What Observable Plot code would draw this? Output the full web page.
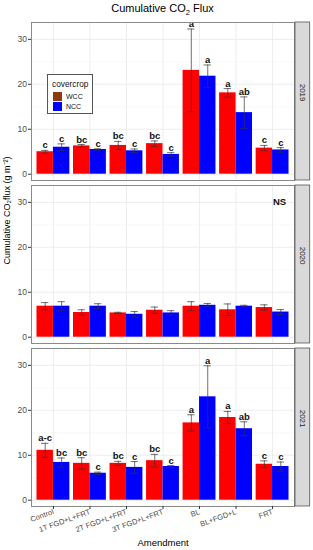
<!DOCTYPE html>
<html>
<head>
<meta charset="utf-8">
<script src="https://cdn.jsdelivr.net/npm/d3@7"></script>
<script src="https://cdn.jsdelivr.net/npm/@observablehq/plot@0.6"></script>
<style>
  html, body { margin: 0; padding: 0; background: #fff; }
  #wrap { position: relative; width: 313px; height: 550px; font-family: "Liberation Sans", Arial, sans-serif; }
  #title { position: absolute; top: 2px; left: 31px; width: 263px; text-align: center; font-size: 11px; color: #000; }
  #title sub { font-size: 7.5px; }
  #legend { position: absolute; left: 47px; top: 74px; width: 46px; height: 40px; border: 1px solid #555; background: #fff; box-sizing: border-box; }
  #legend .t { position: absolute; left: 4px; top: 4px; font-size: 8.3px; color: #111; }
  #legend .sw { position: absolute; left: 5px; width: 9px; height: 9px; }
  #legend .lb { position: absolute; left: 18px; font-size: 7px; color: #111; }
  [aria-label="y-axis tick label"] { fill: #4d4d4d; }
  [aria-label="x-axis tick label"] { fill: #4d4d4d; }
</style>
</head>
<body>
<div id="wrap">
  <div id="chart"></div>
  <div id="title">Cumulative CO<sub>2</sub> Flux</div>
  <div id="legend">
    <div class="t">covercrop</div>
    <div class="sw" style="top:17px;background:#8b3a12"></div>
    <div class="lb" style="top:17.5px">WCC</div>
    <div class="sw" style="top:27px;background:#0000ff"></div>
    <div class="lb" style="top:27.5px">NCC</div>
  </div>
</div>
<script>
const amendments = ["Control", "1T FGD+L+FRT", "2T FGD+L+FRT", "3T FGD+L+FRT", "BL", "BL+FGD+L", "FRT"];
const years = ["2019", "2020", "2021"];
const covercrops = ["WCC", "NCC"];
const ccColors = ["#ff0000", "#0000ff"];
const yTicks = [0, 10, 20, 30];
const yMinor = [5, 15, 25];

const wcc2019 = [5.0, 6.3, 6.4, 6.8, 23.1, 18.1, 5.8];
const wcc2019Se = [0.3, 0.3, 0.9, 0.6, 9.2, 0.95, 0.6];
const wcc2019Letters = ["c", "bc", "bc", "bc", "a", "a", "c"];
const ncc2019 = [6.0, 5.5, 5.2, 4.4, 21.8, 13.7, 5.4];
const ncc2019Se = [0.75, 0.15, 0.4, 0.4, 2.5, 3.5, 0.5];
const ncc2019Letters = ["c", "c", "c", "c", "a", "ab", "c"];

const wcc2020 = [6.9, 5.5, 5.4, 6.0, 6.9, 6.1, 6.6];
const wcc2020Se = [0.8, 0.6, 0.15, 0.7, 1.0, 1.3, 0.6];
const ncc2020 = [6.9, 6.9, 5.1, 5.4, 7.1, 6.9, 5.6];
const ncc2020Se = [1.0, 0.55, 0.6, 0.5, 0.4, 0.2, 0.55];

const wcc2021 = [11.1, 8.2, 8.2, 8.8, 17.2, 18.4, 8.0];
const wcc2021Se = [1.55, 1.25, 0.45, 1.4, 1.8, 1.35, 0.75];
const wcc2021Letters = ["a-c", "bc", "bc", "bc", "a", "a", "c"];
const ncc2021 = [8.4, 6.0, 7.3, 7.5, 23.0, 15.9, 7.5];
const ncc2021Se = [1.0, 0.25, 1.3, 0.2, 6.9, 1.55, 1.0];
const ncc2021Letters = ["bc", "c", "c", "c", "a", "ab", "c"];

const dodge = 0.45;
const rows = [];
function add(year, ccIndex, means, ses, letters) {
  means.forEach((m, i) => {
    const x1 = i + (ccIndex === 0 ? -dodge : 0);
    rows.push({
      year, cc: covercrops[ccIndex], color: ccColors[ccIndex], i,
      amendment: amendments[i], mean: m, se: ses[i],
      lo: m - ses[i], hi: m + ses[i],
      letter: letters ? letters[i] : "",
      x1, x2: x1 + dodge, xc: x1 + dodge / 2
    });
  });
}
add("2019", 0, wcc2019, wcc2019Se, wcc2019Letters);
add("2019", 1, ncc2019, ncc2019Se, ncc2019Letters);
add("2020", 0, wcc2020, wcc2020Se, null);
add("2020", 1, ncc2020, ncc2020Se, null);
add("2021", 0, wcc2021, wcc2021Se, wcc2021Letters);
add("2021", 1, ncc2021, ncc2021Se, ncc2021Letters);

const yearRows = years.map(y => ({year: y}));
const cap = 0.1;

const chart = Plot.plot({
  width: 313,
  height: 550,
  marginLeft: 31,
  marginRight: 19,
  marginTop: 22,
  marginBottom: 44,
  style: {fontFamily: "'Liberation Sans', Arial, sans-serif", background: "#fff", overflow: "visible"},
  x: {domain: [-0.6, 6.6], axis: null},
  y: {domain: [-1.4, 33.75], axis: null},
  fy: {domain: years, axis: null, paddingInner: 0.031, paddingOuter: 0},
  color: {type: "identity"},
  marks: [
    Plot.ruleY(yMinor, {stroke: "#f2f2f2", strokeWidth: 0.5}),
    Plot.ruleY(yTicks, {stroke: "#e8e8e8", strokeWidth: 0.8}),
    Plot.ruleX(d3.range(amendments.length), {stroke: "#e8e8e8", strokeWidth: 0.8}),
    Plot.rect(rows, {fy: "year", x1: "x1", x2: "x2", y1: 0, y2: "mean", fill: "color"}),
    Plot.ruleX(rows, {fy: "year", x: "xc", y1: "lo", y2: "hi", stroke: "#333", strokeWidth: 0.7}),
    Plot.ruleY(rows, {fy: "year", y: "hi", x1: d => d.xc - cap, x2: d => d.xc + cap, stroke: "#333", strokeWidth: 0.7}),
    Plot.ruleY(rows, {fy: "year", y: "lo", x1: d => d.xc - cap, x2: d => d.xc + cap, stroke: "#333", strokeWidth: 0.7}),
    Plot.text(rows.filter(d => d.letter), {fy: "year", x: "xc", y: "hi", text: "letter", dy: -2, lineAnchor: "bottom", fontWeight: "bold", fontSize: 9.5, fill: "#111"}),
    Plot.text(yearRows.filter(d => d.year === "2020"), {fy: "year", frameAnchor: "top-right", dx: -15, dy: 16, text: () => "NS", fontWeight: "bold", fontSize: 9.5, fill: "#111", textAnchor: "middle", lineAnchor: "middle"}),
    Plot.frame({stroke: "#8a8a8a", strokeWidth: 1}),
    Plot.rect(yearRows, {fy: "year", x1: 6.627, x2: 7.03, y1: -1.4, y2: 33.75, fill: "#d9d9d9", stroke: "#555", strokeWidth: 0.8}),
    Plot.text(yearRows, {fy: "year", frameAnchor: "right", dx: 8.5, rotate: 90, text: "year", fontSize: 8, fill: "#1a1a1a"}),
    Plot.axisY({ticks: yTicks, tickSize: 3, tickPadding: 1.5, fontSize: 8.5, label: null, stroke: "#333"}),
    Plot.axisX({ticks: d3.range(amendments.length), tickFormat: i => amendments[i], tickRotate: -20, tickSize: 3, tickPadding: 2, fontSize: 7.5, label: null, stroke: "#333"}),
    Plot.text(yearRows.filter(d => d.year === "2020"), {fy: "year", frameAnchor: "left", dx: -24, rotate: -90, text: () => "Cumulative CO\u2082flux (g m\u207B\u00B2)", fontSize: 9, fill: "#000"}),
    Plot.text(yearRows.filter(d => d.year === "2021"), {fy: "year", frameAnchor: "bottom", dy: 36, text: () => "Amendment", fontSize: 9.5, fill: "#000", lineAnchor: "middle"})
  ]
});
document.getElementById("chart").appendChild(chart);
</script>
</body>
</html>
